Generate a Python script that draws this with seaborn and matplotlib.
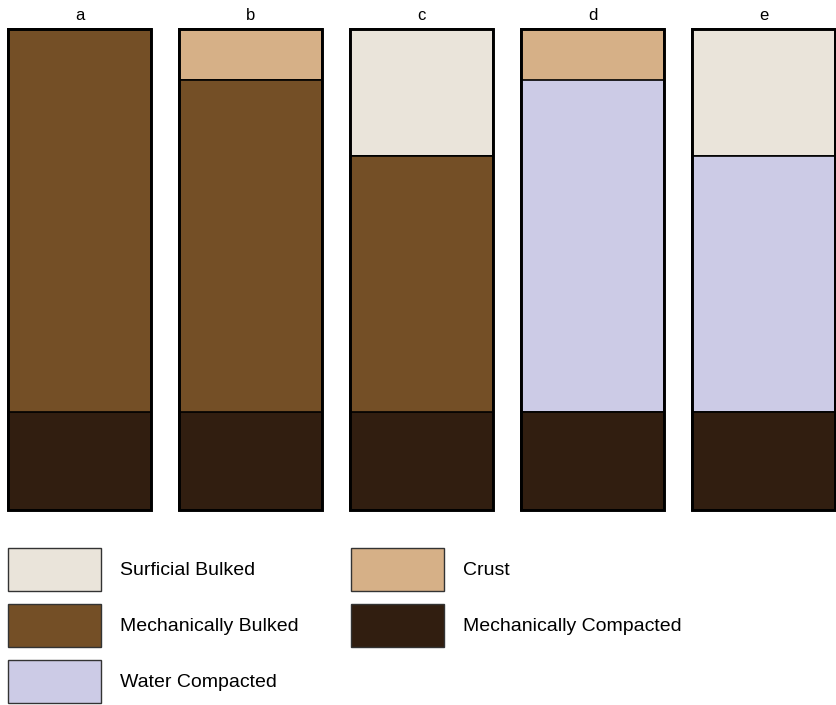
import numpy as np
import pandas as pd
import matplotlib
matplotlib.use("Agg")
import matplotlib.pyplot as plt
import seaborn as sns
from matplotlib.patches import Patch

sns.set_theme(style="white")
plt.rcParams['font.family'] = ['Liberation Sans', 'DejaVu Sans']

## columnas de los perfiles y espesor de cada capa
columns = ['a', 'b', 'c', 'd', 'e']
mech_compacted = [0.98, 0.98, 0.98, 0.98, 0.98]
mech_bulked = [3.83, 3.32, 2.56, 0.0, 0.0]
water_compacted = [0.0, 0.0, 0.0, 3.32, 2.56]
crust = [0.0, 0.51, 0.0, 0.51, 0.0]
surficial_bulked = [0.0, 0.0, 1.27, 0.0, 1.27]

# orden de abajo hacia arriba
layers = ['Mechanically Compacted', 'Mechanically Bulked', 'Water Compacted', 'Crust', 'Surficial Bulked']
colors = {'Surficial Bulked': '#eae4da',
          'Crust': '#d6b087',
          'Mechanically Bulked': '#744f26',
          'Mechanically Compacted': '#311e10',
          'Water Compacted': '#cccbe6'}

df = pd.DataFrame({'column': columns,
                   'Mechanically Compacted': mech_compacted,
                   'Mechanically Bulked': mech_bulked,
                   'Water Compacted': water_compacted,
                   'Crust': crust,
                   'Surficial Bulked': surficial_bulked})
cum = df[layers].cumsum(axis=1)
total = cum[layers[-1]]

W, H = 836, 705
fig = plt.figure(figsize=(W / 100, H / 100), dpi=100)
ax = fig.add_axes([8 / W, 1 - 510 / H, 827 / W, 481 / H])

bar_w = 143 / 171
# barras acumuladas, de la capa superior a la inferior
for lay in layers[::-1]:
    sns.barplot(x=df['column'], y=cum[lay], color=colors[lay], saturation=1,
                width=bar_w, edgecolor='black', linewidth=1.2, ax=ax)
# borde exterior
sns.barplot(x=df['column'], y=total, fill=False, width=bar_w,
            edgecolor='black', linewidth=2.1, ax=ax)

ax.set_xlim(-bar_w / 2, 4 + bar_w / 2)
ax.set_ylim(0, total.max())
ax.xaxis.tick_top()
ax.tick_params(axis='x', length=0, pad=4, labelsize=12, colors='black')
ax.set_yticks([])
ax.set_xlabel('')
ax.set_ylabel('')
for s in ax.spines.values():
    s.set_visible(False)
for p in ax.patches:
    p.set_clip_on(False)

legend_order = ['Surficial Bulked', 'Mechanically Bulked', 'Water Compacted',
                'Crust', 'Mechanically Compacted']
handles = [Patch(facecolor=colors[k], edgecolor='#333333', linewidth=1, label=k)
           for k in legend_order]
fs = 14 * 100 / 72
fig.legend(handles=handles, ncol=2, loc='upper left',
           bbox_to_anchor=(8 / W, 1 - 548 / H), frameon=False, fontsize=14,
           labelcolor='black',
           handlelength=93 / fs, handleheight=44 / fs * 44 / 33, labelspacing=13 / fs,
           handletextpad=19 / fs, columnspacing=52 / fs, borderpad=0,
           borderaxespad=0)

fig.savefig('out.png', dpi=100)
